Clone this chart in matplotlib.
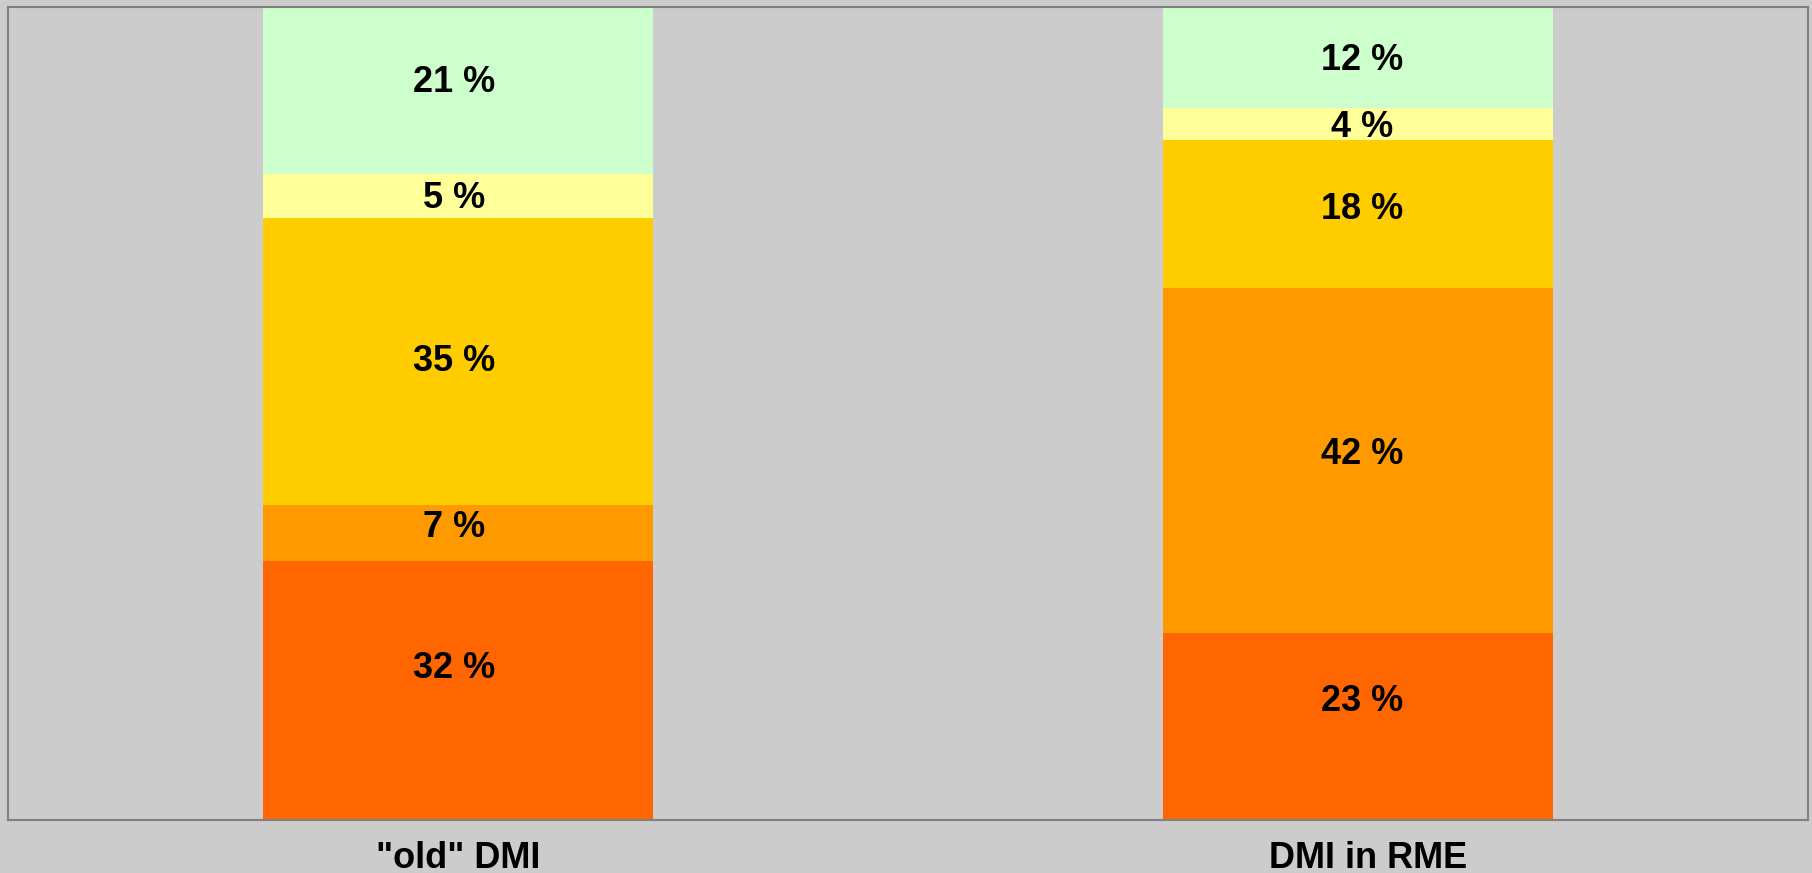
import matplotlib
matplotlib.use("Agg")
import matplotlib.pyplot as plt
import matplotlib.transforms as mtransforms
import numpy as np

categories = ['"old" DMI', 'DMI in RME']
# stacked segments from bottom to top (percent)
seg_bottom = [31.8, 23.0]     # red-orange
seg_second = [6.9, 42.4]      # orange
seg_third = [35.3, 18.3]      # gold
seg_fourth = [5.4, 3.9]       # light yellow
seg_top = [20.6, 12.4]        # light green

series = [seg_bottom, seg_second, seg_third, seg_fourth, seg_top]
colors = ["#FF6600", "#FF9900", "#FFCC00", "#FFFF99", "#CCFFCC"]
# vertical nudges of the value labels (pixels, positive = upwards), per series / category
label_nudge_px = [[22, 25], [6, 6], [0, 4.6], [-2, -3.5], [8, -3.5]]
# horizontal nudges of the value labels per category (pixels)
label_xnudge_px = [-3.5, 4.6]

plt.rcParams['font.family'] = ['Liberation Sans', 'DejaVu Sans']

fig = plt.figure(figsize=(18.12, 8.73), dpi=100)
fig.patch.set_facecolor("#CCCCCC")
ax = fig.add_axes([0.00442, 0.06071, 0.99337, 0.93127])
ax.set_facecolor("#CCCCCC")

x = np.arange(len(categories))
bottom = np.zeros(len(categories))
for vals, col, nudges in zip(series, colors, label_nudge_px):
    vals = np.array(vals)
    ax.bar(x, vals, width=0.434, bottom=bottom, color=col, edgecolor='none', zorder=2)
    for xi, v, b, nd, nx in zip(x, vals, bottom, nudges, label_xnudge_px):
        ax.annotate(f"{v:.0f} %", (xi, b + v / 2), xytext=(nx * 0.72, nd * 0.72),
                    textcoords='offset points', ha='center', va='center',
                    fontsize=26, fontweight='bold', color='black', zorder=3)
    bottom += vals

ax.set_xlim(-0.5, 1.5)
ax.set_ylim(0, 100)
ax.set_yticks([])
ax.set_xticks(x)
ax.set_xticklabels(categories, fontsize=26, fontweight='bold')
ax.tick_params(axis='x', length=0, pad=15)
lbls = ax.get_xticklabels()
lbls[1].set_transform(lbls[1].get_transform() +
                      mtransforms.ScaledTranslation(10 / 100, 0, fig.dpi_scale_trans))
for sp in ax.spines.values():
    sp.set_color("#808080")
    sp.set_linewidth(1.5)

fig.savefig("out.png", dpi=100, facecolor=fig.get_facecolor())
